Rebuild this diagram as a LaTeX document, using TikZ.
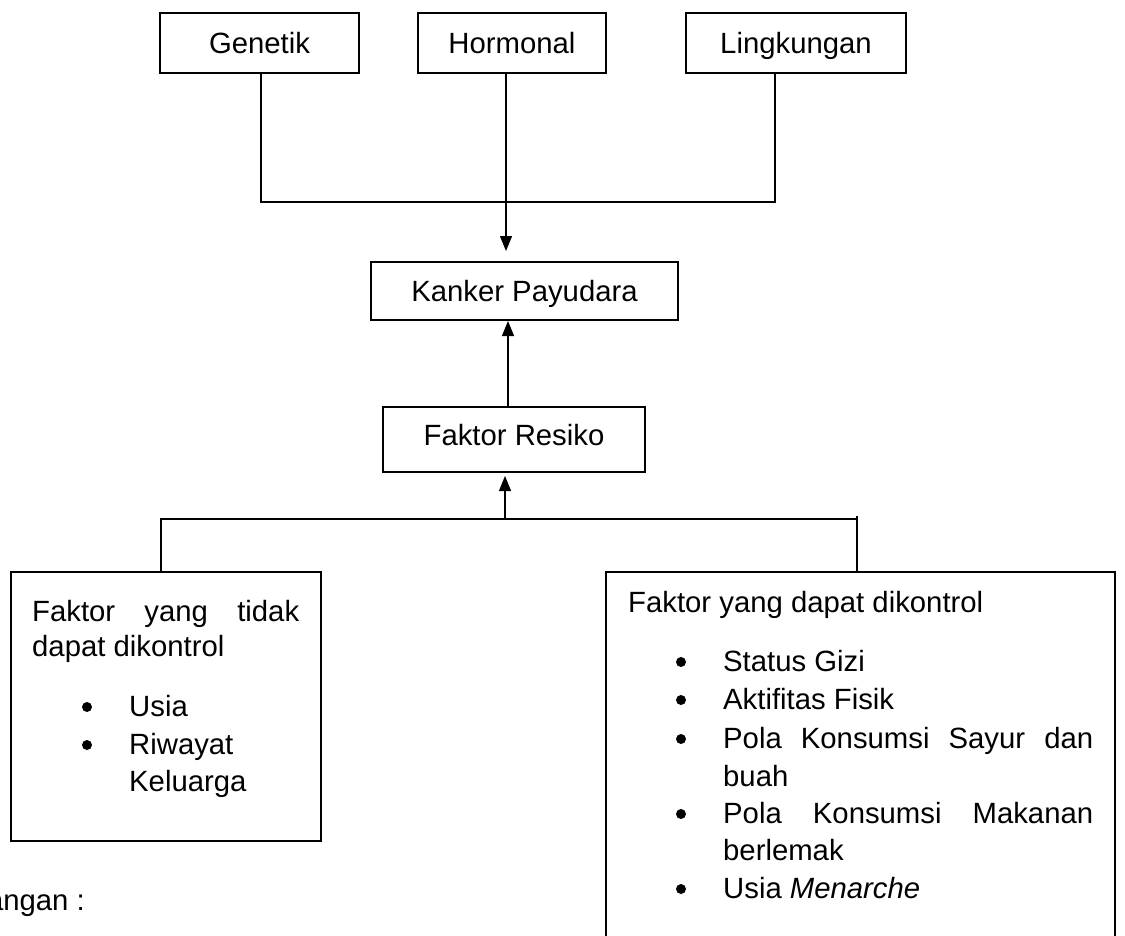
\documentclass[tikz,border=0pt]{standalone}
\usepackage{fontspec}
\setmainfont{Liberation Sans}
\usetikzlibrary{arrows.meta}
\begin{document}
\begin{tikzpicture}[x=1pt,y=-1pt,
  font=\fontsize{29.3}{37.8}\selectfont,
  box/.style={draw,line width=2pt,inner sep=0pt,text height=21pt,text depth=0pt},
  conn/.style={line width=1.2pt},
  arr/.style={line width=1.2pt,-{Triangle[length=15pt,width=12pt]}},
  txt/.style={anchor=base west,inner sep=0pt},
  dot/.style={fill=black}]
\useasboundingbox (0,0) rectangle (1125,935);
% top boxes
\node[box,minimum width=199pt,minimum height=60pt] (gen) at (259.5,43) {Genetik};
\node[box,minimum width=188pt,minimum height=60pt] (hor) at (512,43) {Hormonal};
\node[box,minimum width=220pt,minimum height=60pt] (lin) at (796,43) {Lingkungan};
% middle boxes
\node[box,minimum width=307pt,minimum height=58pt] (kan) at (524.5,291) {Kanker Payudara};
\node[box,minimum width=262pt,minimum height=65pt,text depth=9pt] (fr) at (514,439.5) {Faktor Resiko};
% bottom boxes
\node[box,minimum width=310pt,minimum height=269pt] (lb) at (166,706.5) {};
\node[box,minimum width=509pt,minimum height=378pt] (rb) at (860.5,761) {};
% connectors top
\coordinate (j1) at (506,202);
\coordinate (hs) at ([xshift=-6pt]hor.south);
\coordinate (t1) at ([yshift=10pt]kan.north);
\draw[conn] ([xshift=1.5pt]gen.south) |- ([xshift=-21pt]lin.south |- j1) -- ([xshift=-21pt]lin.south);
\draw[arr] (hs) -- (hs |- t1);
% middle arrow
\draw[arr] ([xshift=-6pt]fr.north) -- ([xshift=-6pt]fr.north |- kan.south);
% bottom connectors
\coordinate (j2) at (505,519);
\draw[arr] (j2) -- ([yshift=-3pt]fr.south -| j2);
\draw[conn] ([xshift=-5pt]lb.north) |- ([xshift=-3.5pt]rb.north |- j2);
\draw[conn] ([xshift=-3.5pt,yshift=3pt]rb.north |- j2) -- ([xshift=-3.5pt]rb.north);
% left box text
\node[txt] (l1) at (32,621) {\makebox[267pt][s]{Faktor yang tidak}};
\node[txt] (l2) at (32,656) {dapat dikontrol};
\node[txt] (l3) at (129,716) {Usia};
\node[txt] (l4) at (129,754) {Riwayat};
\node[txt] (l5) at (129,791) {Keluarga};
\fill[dot] (87,707) circle (5pt);
\fill[dot] (87,745) circle (5pt);
% right box text
\node[txt] (r1) at (628,612) {Faktor yang dapat dikontrol};
\node[txt] (r2) at (723,671) {Status Gizi};
\node[txt] (r3) at (723,709) {Aktifitas Fisik};
\node[txt] (r4) at (723,748) {\makebox[370pt][s]{Pola Konsumsi Sayur dan}};
\node[txt] (r5) at (723,786) {buah};
\node[txt] (r6) at (723,823) {\makebox[370pt][s]{Pola Konsumsi Makanan}};
\node[txt] (r7) at (723,860) {berlemak};
\node[txt] (r8) at (723,898) {Usia \textit{Menarche}};
\foreach \yy in {662,700,739,814,889} \fill[dot] (681,\yy) circle (5pt);
% footnote
\node[anchor=base east,inner sep=0pt] (ket) at (85,910) {angan :};
\end{tikzpicture}
\end{document}
